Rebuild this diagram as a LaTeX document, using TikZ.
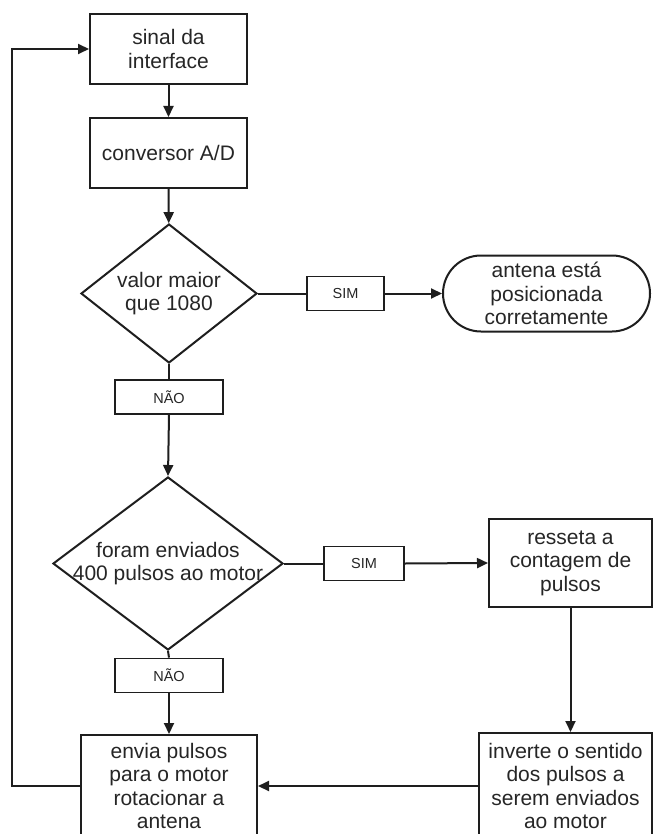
\documentclass[tikz,border=0pt]{standalone}
\usepackage{fontspec}
\setmainfont{Liberation Sans}
\usetikzlibrary{shapes.geometric,shapes.misc,arrows.meta}
\definecolor{ln}{HTML}{1E1E1E}
\definecolor{tx}{HTML}{262626}
\begin{document}
\begin{tikzpicture}[x=1pt,y=-1pt,
  every node/.style={text=tx},
  bigfont/.style={font=\fontsize{21}{23.5}\selectfont},
  proc/.style={draw=ln,line width=2pt,rectangle,inner sep=0pt,align=center,bigfont},
  dec/.style={draw=ln,line width=2pt,diamond,inner sep=0pt},
  termbox/.style={draw=ln,line width=2pt,rounded rectangle,inner sep=0pt,align=center,bigfont},
  lbl/.style={draw=ln,line width=1.8pt,rectangle,inner sep=0pt,minimum height=34pt,font=\fontsize{14.5}{16}\selectfont},
  conn/.style={draw=ln,line width=2pt},
  arr/.style={conn,-{Triangle[length=11pt,width=10pt]}}]
\useasboundingbox (0,0) rectangle (653,834);
\clip (0,0) rectangle (653,834);
\fill[white] (0,0) rectangle (653,834);

\node[proc,minimum width=157pt,minimum height=70pt] (s1) at (168.5,49) {sinal da\\interface};
\node[proc,minimum width=157pt,minimum height=70pt] (s2) at (168.5,153) {conversor A/D};
\node[dec,minimum width=176pt,minimum height=139pt,
  label={[bigfont,align=center]center:{valor maior\\que 1080}}] (d1) at (169,293.5) {};
\node[lbl,minimum width=77pt] (sim1) at (345.5,293.5) {SIM};
\node[termbox,minimum width=207pt,minimum height=76pt] (t1) at (546.5,293.5) {antena está\\posicionada\\corretamente};
\node[lbl,minimum width=108pt] (nao1) at (169,397) {NÃO};
\node[dec,minimum width=230pt,minimum height=173pt,
  label={[bigfont,align=center]center:{foram enviados\\400 pulsos ao motor}}] (d2) at (168,563.5) {};
\node[lbl,minimum width=80pt] (sim2) at (364,563.5) {SIM};
\node[proc,minimum width=163pt,minimum height=88pt] (r1) at (570.5,563) {resseta a\\contagem de\\pulsos};
\node[lbl,minimum width=108pt] (nao2) at (169,675.5) {NÃO};
\node[proc,minimum width=176pt,minimum height=102pt] (e1) at (169,786) {envia pulsos\\para o motor\\rotacionar a\\antena};
\node[proc,minimum width=173pt,minimum height=106pt] (i1) at (565.5,786) {inverte o sentido\\dos pulsos a\\serem enviados\\ao motor};

\coordinate (fb) at (12,0);
\draw[arr] (s1) -- (s2);
\draw[arr] (s2) -- (d1);
\draw[conn] (d1.east) -- (sim1.west);
\draw[arr] (sim1.east) -- (t1.west);
\draw[conn] (d1.south) -- (nao1.north);
\draw[arr] (nao1.south) -- (d2.north);
\draw[conn] (d2.east) -- (sim2.west);
\draw[arr] (sim2.east) -- (r1.west);
\draw[conn] (d2.south) -- (nao2.north);
\draw[arr] (nao2.south) -- (e1.north);
\draw[arr] (r1.south) -- (r1.south |- i1.north);
\draw[arr] (i1.west) -- (e1.east);
\draw[arr] (e1.west) -- (fb |- e1.west) -- (fb |- s1.west) -- (s1.west);
\end{tikzpicture}
\end{document}
